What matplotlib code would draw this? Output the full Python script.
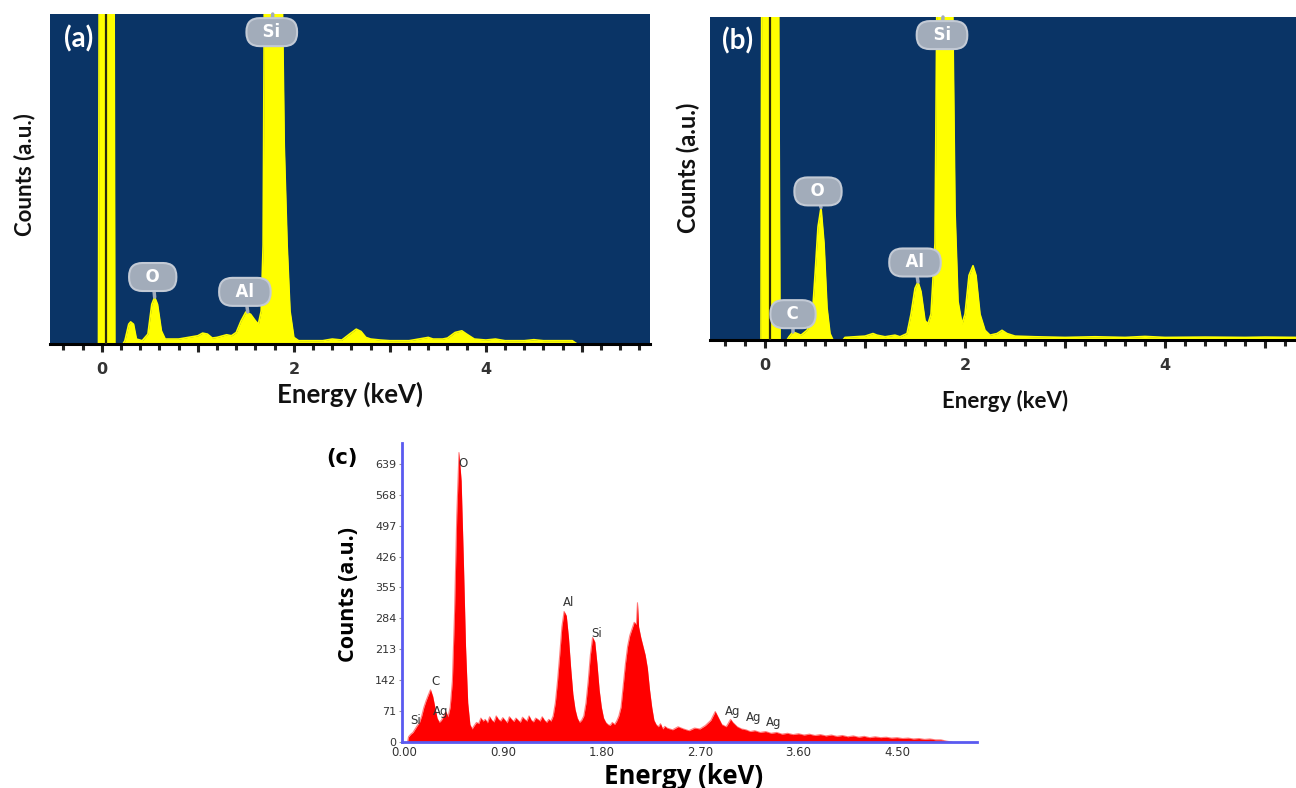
import matplotlib
matplotlib.use("Agg")
import matplotlib.pyplot as plt
from matplotlib.ticker import MultipleLocator, FixedLocator, FuncFormatter

# ---------------- data ----------------
# (a) EDS spectrum, energy (keV) vs counts (a.u., % of full scale)
a_energy = [-0.035, -0.025, 0.125, 0.135, 0.22, 0.24, 0.28, 0.30, 0.33, 0.36, 0.42, 0.48,
            0.52, 0.55, 0.58, 0.62, 0.66, 0.80, 0.90, 1.00, 1.05, 1.10, 1.15, 1.20,
            1.30, 1.35, 1.40, 1.45, 1.50, 1.55, 1.60, 1.63, 1.66, 1.68, 1.70, 1.86,
            1.90, 1.93, 1.96, 2.00, 2.05, 2.10, 2.30, 2.40, 2.50, 2.58, 2.65, 2.70,
            2.75, 2.80, 2.90, 3.00, 3.20, 3.30, 3.40, 3.45, 3.55, 3.60, 3.68, 3.75,
            3.80, 3.88, 4.00, 4.10, 4.20, 4.40, 4.50, 4.60, 4.90, 4.95]
a_counts = [0, 150, 150, 0, 0, 1, 6, 6.7, 6, 1.5, 1, 3,
            12, 14.2, 12, 4, 1.5, 1.5, 2, 2.5, 3.3, 3, 1.8, 2,
            2.8, 2.5, 3.5, 7, 9.7, 9, 7, 6, 10, 30, 150, 150,
            60, 30, 10, 2, 1, 1, 1, 1.5, 1.2, 3, 4.5, 3.8,
            2, 1.5, 1.2, 1, 1, 1.5, 2, 1.5, 1.5, 1.8, 3.5, 4,
            3, 1.5, 1.2, 1.5, 1, 1, 1.3, 1, 1, 0]
a_peak_names = ["O", "Al", "Si"]
a_peak_energy = [0.55, 1.52, 1.78]
a_peak_top = [14.2, 9.7, 100]

# (b) EDS spectrum
b_energy = [-0.04, -0.03, 0.13, 0.15, 0.22, 0.24, 0.28, 0.32, 0.36, 0.42, 0.47, 0.50,
            0.53, 0.56, 0.59, 0.62, 0.65, 0.68, 0.78, 0.80, 0.90, 1.00, 1.08, 1.12,
            1.20, 1.30, 1.35, 1.42, 1.46, 1.50, 1.53, 1.56, 1.60, 1.63, 1.66, 1.70,
            1.73, 1.86, 1.90, 1.93, 1.97, 2.00, 2.04, 2.08, 2.11, 2.15, 2.20, 2.25,
            2.32, 2.37, 2.42, 2.50, 2.70, 3.00, 3.30, 3.60, 3.80, 4.00, 4.40, 4.80,
            5.00, 5.31]
b_counts = [0, 150, 150, 0, 0, 1, 2.5, 2, 1.5, 3, 6, 20,
            35, 41, 30, 10, 2, 0, 0, 0.8, 1, 1.2, 2, 1.5,
            1, 1.5, 1, 2, 8, 16, 18, 15, 6, 5, 8, 30,
            150, 150, 40, 12, 5, 8, 20, 23, 20, 8, 3, 1.5,
            2, 3, 2, 1.2, 1, 0.8, 1, 0.8, 1.1, 0.8, 0.9, 0.8,
            0.9, 0.8]
b_peak_names = ["C", "O", "Al", "Si"]
b_peak_energy = [0.28, 0.56, 1.53, 1.78]
b_peak_top = [2.5, 41, 18, 100]

# (c) EDS spectrum, counts
c_energy = [0.03, 0.04, 0.06, 0.08, 0.10, 0.12, 0.14, 0.16, 0.18, 0.20, 0.22, 0.24,
            0.26, 0.28, 0.30, 0.32, 0.34, 0.36, 0.38, 0.40, 0.42, 0.44, 0.46, 0.48,
            0.50, 0.52, 0.54, 0.56, 0.58, 0.60, 0.62, 0.64, 0.66, 0.68, 0.70, 0.72,
            0.74, 0.76, 0.78, 0.80, 0.82, 0.84, 0.86, 0.88, 0.90, 0.92, 0.94, 0.96,
            0.98, 1.00, 1.02, 1.04, 1.06, 1.08, 1.10, 1.12, 1.14, 1.16, 1.18, 1.20,
            1.22, 1.24, 1.26, 1.28, 1.30, 1.32, 1.34, 1.36, 1.38, 1.40, 1.42, 1.44,
            1.46, 1.48, 1.50, 1.52, 1.54, 1.56, 1.58, 1.60, 1.62, 1.64, 1.66, 1.68,
            1.70, 1.72, 1.74, 1.76, 1.78, 1.80, 1.82, 1.84, 1.86, 1.88, 1.90, 1.92,
            1.94, 1.96, 1.98, 2.00, 2.02, 2.04, 2.06, 2.08, 2.10, 2.12, 2.13, 2.14,
            2.16, 2.18, 2.20, 2.22, 2.24, 2.26, 2.28, 2.30, 2.32, 2.34, 2.36, 2.38,
            2.40, 2.45, 2.50, 2.55, 2.60, 2.65, 2.70, 2.75, 2.80, 2.84, 2.87, 2.90,
            2.94, 2.98, 3.00, 3.04, 3.08, 3.12, 3.16, 3.20, 3.25, 3.30, 3.35, 3.40,
            3.45, 3.50, 3.55, 3.60, 3.65, 3.70, 3.75, 3.80, 3.85, 3.90, 3.95, 4.00,
            4.05, 4.10, 4.15, 4.20, 4.25, 4.30, 4.35, 4.40, 4.45, 4.50, 4.55, 4.60,
            4.65, 4.70, 4.75, 4.80, 4.85, 4.90, 4.95, 5.00]
c_counts = [0, 12, 18, 22, 30, 38, 45, 60, 80, 95, 108, 120,
            105, 80, 55, 45, 50, 60, 70, 58, 80, 140, 300, 520,
            665, 600, 420, 220, 90, 40, 30, 38, 45, 42, 55, 48,
            52, 44, 58, 50, 46, 60, 52, 48, 56, 50, 44, 58,
            52, 47, 55, 50, 45, 57, 52, 48, 60, 50, 46, 55,
            52, 48, 58, 50, 45, 52, 48, 60, 90, 140, 200, 265,
            300, 290, 240, 170, 110, 75, 55, 45, 50, 60, 90, 140,
            200, 240, 230, 180, 120, 80, 55, 45, 40, 38, 45, 40,
            48, 60, 80, 130, 180, 220, 245, 260, 275, 270, 320, 265,
            240, 220, 200, 170, 120, 80, 50, 40, 35, 42, 30, 36,
            32, 28, 35, 30, 26, 32, 30, 38, 50, 70, 55, 40,
            35, 52, 45, 35, 30, 28, 24, 26, 22, 24, 20, 22,
            18, 20, 17, 19, 16, 18, 15, 17, 14, 16, 13, 15,
            12, 14, 11, 13, 10, 12, 10, 11, 9, 10, 8, 9,
            7, 8, 6, 7, 5, 5, 2, 0]
c_label_names = ["Si", "C", "Ag", "O", "Al", "Si", "Ag", "Ag", "Ag"]
c_label_energy = [0.10, 0.29, 0.33, 0.54, 1.50, 1.76, 3.00, 3.19, 3.37]
c_label_counts = [50, 140, 69, 641, 320, 250, 69, 57, 44]
c_yticks = [0, 71, 142, 213, 284, 355, 426, 497, 568, 639]
c_xticks = [0.00, 0.90, 1.80, 2.70, 3.60, 4.50]

# ---------------- figure ----------------
W, H = 1296, 788
fig = plt.figure(figsize=(W / 100, H / 100), dpi=100)
fig.patch.set_facecolor("white")


def rect(l, t, r, b):
    return [l / W, 1 - b / H, (r - l) / W, (b - t) / H]


NAVY = "#0a3466"
YEL = "#ffff00"
BADGE = "#a2acba"


def eds_panel(ax, energy, counts, xlim, names, pe, ptop, badge_xy, tag):
    ax.set_facecolor(NAVY)
    ax.fill_between(energy, 0, counts, color=YEL, lw=0, zorder=2)
    ax.plot(energy, counts, color=YEL, lw=1.2, zorder=2)
    ax.axvline(0.045, color="#2b2b10", lw=1.6, zorder=3)
    ax.set_xlim(*xlim)
    ax.set_ylim(0, 100)
    for s in ["top", "right", "left"]:
        ax.spines[s].set_visible(False)
    ax.spines["bottom"].set_color("black")
    ax.spines["bottom"].set_linewidth(2.2)
    ax.set_yticks([])
    ax.xaxis.set_major_locator(MultipleLocator(1))
    ax.xaxis.set_minor_locator(MultipleLocator(0.2))
    ax.xaxis.set_major_formatter(FuncFormatter(
        lambda v, p: str(int(round(v))) if round(v) % 2 == 0 else ""))
    ax.tick_params(axis="x", which="major", length=6, width=2.2, color="#222222",
                   pad=7, labelsize=11.5, labelcolor="#333333")
    ax.tick_params(axis="x", which="minor", length=4, width=2.2, color="#222222")
    for lab in ax.get_xticklabels():
        lab.set_fontweight("bold")
        lab.set_family("DejaVu Sans")
    for n, x, yt, (bx, by) in zip(names, pe, ptop, badge_xy):
        ax.annotate("  " + n + "  ", xy=(x, min(yt, 100)), xytext=(bx, by),
                    ha="center", va="center", color="white", fontsize=12,
                    fontweight="bold", family="DejaVu Sans", zorder=5,
                    bbox=dict(boxstyle="round,pad=0.3,rounding_size=0.8",
                              fc=BADGE, ec="#c3cad5", lw=1.5),
                    arrowprops=dict(arrowstyle="-", color=BADGE, lw=2.5,
                                    shrinkA=0, shrinkB=0))
    ax.text(0.047, 0.925, tag, transform=ax.transAxes, color="white",
            fontsize=20, fontweight="bold", family="Lato", ha="center", va="center")


# (a)
ax_a = fig.add_axes(rect(50, 14, 650, 344))
eds_panel(ax_a, a_energy, a_counts, (-0.54, 5.71), a_peak_names, a_peak_energy,
          a_peak_top, [(0.53, 20.3), (1.49, 15.8), (1.77, 94.5)], "(a)")
fig.text(25 / W, 1 - 175 / H, "Counts (a.u.)", rotation=90, ha="center", va="center",
         fontsize=16, fontweight="bold", family="Lato", color="#111111")
fig.text(350 / W, 1 - 394 / H, "Energy (keV)", ha="center", va="center",
         fontsize=18.5, fontweight="bold", family="Lato", color="#111111")

# (b)
ax_b = fig.add_axes(rect(710, 17, 1296, 340))
eds_panel(ax_b, b_energy, b_counts, (-0.55, 5.31), b_peak_names, b_peak_energy,
          b_peak_top, [(0.28, 8.0), (0.53, 46.0), (1.50, 24.0), (1.77, 94.4)], "(b)")
fig.text(688 / W, 1 - 168 / H, "Counts (a.u.)", rotation=90, ha="center", va="center",
         fontsize=17, fontweight="bold", family="Lato", color="#111111")
fig.text(1005 / W, 1 - 401 / H, "Energy (keV)", ha="center", va="center",
         fontsize=16, fontweight="bold", family="Lato", color="#111111")

# (c)
ax_c = fig.add_axes(rect(402, 443, 977, 742))
ax_c.fill_between(c_energy, 0, c_counts, color="#ff0000", lw=0, zorder=2)
ax_c.plot(c_energy, c_counts, color="#ff8080", lw=0.8, zorder=1)
ax_c.set_xlim(-0.02, 5.23)
ax_c.set_ylim(0, 687)
for s in ["top", "right"]:
    ax_c.spines[s].set_visible(False)
for s in ["left", "bottom"]:
    ax_c.spines[s].set_color("#5a5af0")
    ax_c.spines[s].set_linewidth(2)
ax_c.yaxis.set_major_locator(FixedLocator(c_yticks))
ax_c.xaxis.set_major_locator(FixedLocator(c_xticks))
ax_c.xaxis.set_major_formatter(FuncFormatter(lambda v, p: f"{v:.2f}"))
ax_c.tick_params(axis="y", length=2, width=0.8, color="#999999", labelsize=8,
                 labelcolor="#333333", pad=2)
ax_c.tick_params(axis="x", length=0, labelsize=8.5, labelcolor="#333333", pad=3)
for n, x, y in zip(c_label_names, c_label_energy, c_label_counts):
    ax_c.text(x, y, n, ha="center", va="center", fontsize=8.5, color="#333333",
              family="DejaVu Sans", zorder=4)
fig.text(342 / W, 1 - 458 / H, "(c)", ha="center", va="center", fontsize=15,
         fontweight="bold", family="DejaVu Sans", color="black")
fig.text(348 / W, 1 - 594 / H, "Counts (a.u.)", rotation=90, ha="center", va="center",
         fontsize=15.5, fontweight="bold", family="Open Sans", color="black")
fig.text(684 / W, 1 - 776 / H, "Energy (keV)", ha="center", va="center",
         fontsize=18.5, fontweight="bold", family="Open Sans", color="black")

fig.savefig("out.png", dpi=100)
